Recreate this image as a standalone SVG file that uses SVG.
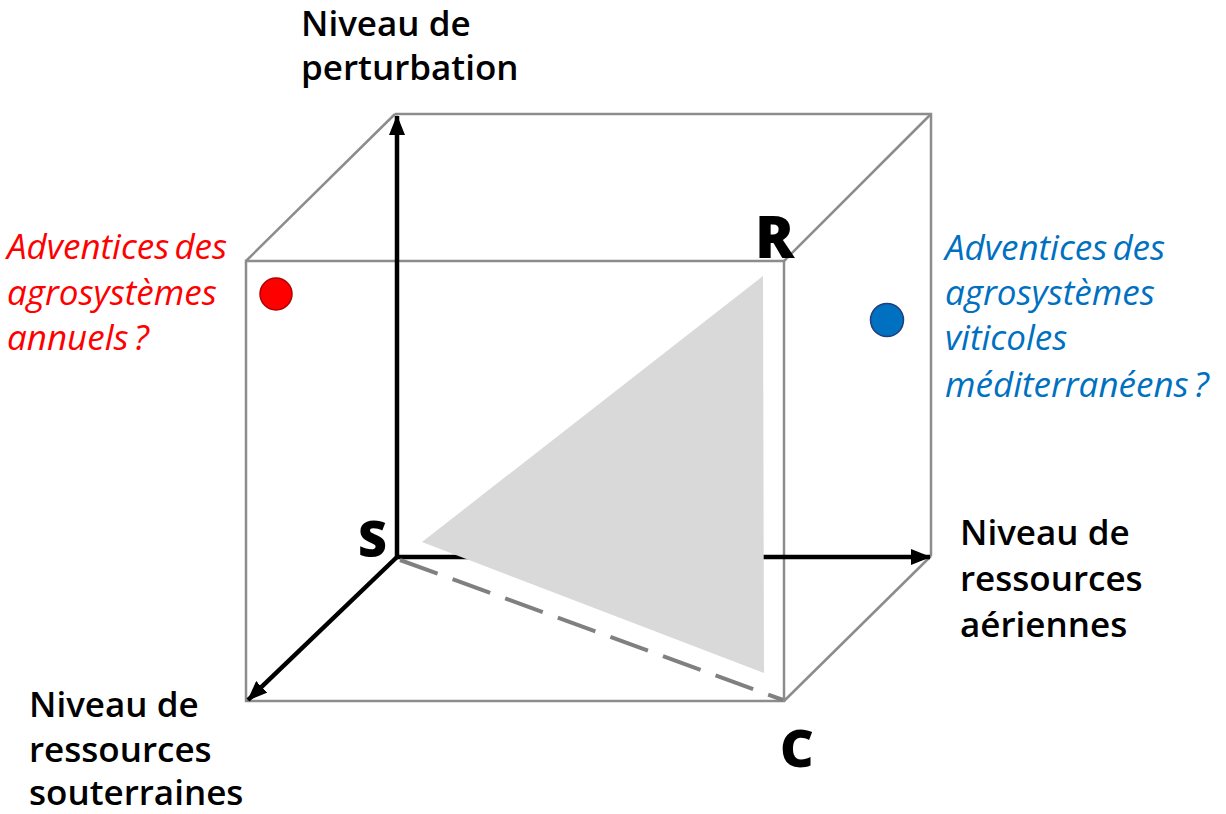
<svg xmlns="http://www.w3.org/2000/svg" width="1226" height="814" viewBox="0 0 1226 814">
  <defs>
    <marker id="ah" viewBox="0 0 20 16" refX="19" refY="8" markerWidth="20" markerHeight="16" markerUnits="userSpaceOnUse" orient="auto">
      <path d="M0,0 L20,8 L0,16 Z" fill="#000"/>
    </marker>
    <style>
      .edge { stroke: #8c8c8c; stroke-width: 2.5; fill: none; }
      .axis { stroke: #000; stroke-width: 4.5; fill: none; marker-end: url(#ah); }
      .lbl { font-family: "Open Sans", "Liberation Sans", sans-serif; font-weight: 600; font-size: 35px; fill: #000; }
      .it { font-family: "Open Sans", "Liberation Sans", sans-serif; font-style: italic; font-size: 35px; word-spacing: -4px; }
      .big { font-family: "Open Sans", "Liberation Sans", sans-serif; font-weight: 800; fill: #000; }
    </style>
  </defs>

  <g id="cube">
    <polyline class="edge" points="395,114 931,114 931,556"/>
    <line class="edge" x1="246" y1="261" x2="395" y2="114"/>
    <line class="edge" x1="784" y1="261" x2="931" y2="114"/>
    <line class="edge" x1="784" y1="701" x2="931" y2="556"/>
    <rect class="edge" x="246" y="261" width="538" height="440"/>
  </g>

  <g id="connectors">
    <line class="axis" x1="397" y1="557" x2="397" y2="116"/>
    <line class="axis" x1="397" y1="557" x2="930" y2="557"/>
    <line class="axis" x1="397" y1="557" x2="248" y2="700"/>
    <line x1="400" y1="560" x2="783" y2="700" stroke="#808080" stroke-width="4" stroke-dasharray="40 16"/>
  </g>

  <g id="triangle">
    <polygon points="422,542 763,276 764,673" fill="#d9d9d9"/>
  </g>

  <g id="corner-R"><text class="big" x="755" y="258" font-size="58">R</text></g>
  <g id="corner-S"><text class="big" x="358" y="557" font-size="50">S</text></g>
  <g id="corner-C"><text class="big" x="780" y="767" font-size="52">C</text></g>

  <g id="dot-annuels">
    <circle cx="276" cy="294" r="16" fill="#ff0000" stroke="#b00000" stroke-width="1.5"/>
  </g>
  <g id="dot-viticoles">
    <circle cx="887" cy="320" r="16.5" fill="#0070c0" stroke="#1f3f7f" stroke-width="1.5"/>
  </g>

  <g id="label-perturbation">
    <text class="lbl" x="301" y="36">Niveau de</text>
    <text class="lbl" x="301" y="80">perturbation</text>
  </g>
  <g id="label-aeriennes">
    <text class="lbl" x="960" y="545">Niveau de</text>
    <text class="lbl" x="960" y="591">ressources</text>
    <text class="lbl" x="960" y="637">aériennes</text>
  </g>
  <g id="label-souterraines">
    <text class="lbl" x="29" y="717">Niveau de</text>
    <text class="lbl" x="29" y="762">ressources</text>
    <text class="lbl" x="29" y="805">souterraines</text>
  </g>

  <g id="label-annuels" fill="#ff0000">
    <text class="it" x="7" y="259">Adventices des</text>
    <text class="it" x="7" y="305">agrosystèmes</text>
    <text class="it" x="7" y="350">annuels ?</text>
  </g>
  <g id="label-viticoles" fill="#0070c0">
    <text class="it" x="945" y="260">Adventices des</text>
    <text class="it" x="945" y="305">agrosystèmes</text>
    <text class="it" x="945" y="350">viticoles</text>
    <text class="it" x="945" y="397">méditerranéens ?</text>
  </g>
</svg>
